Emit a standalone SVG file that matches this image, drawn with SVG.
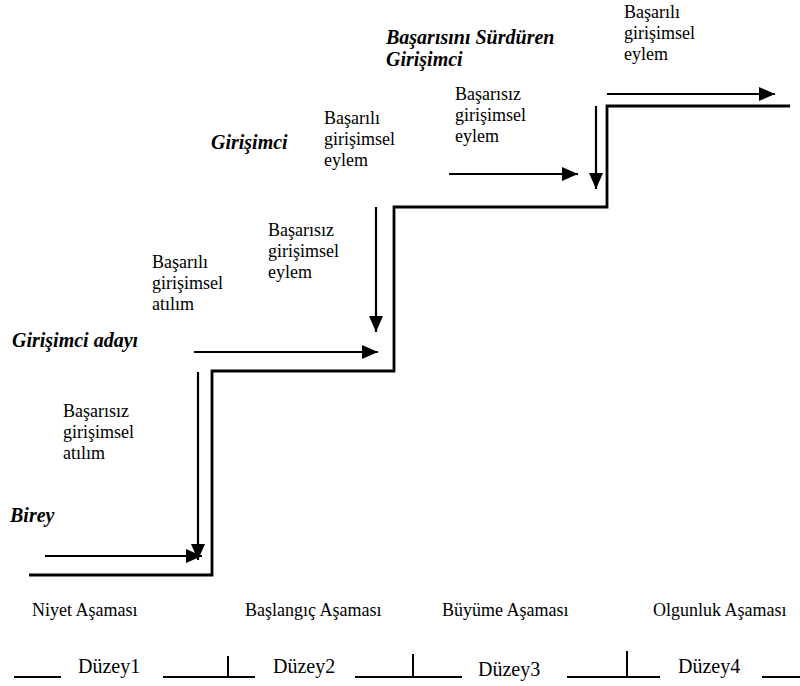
<svg xmlns="http://www.w3.org/2000/svg" width="800" height="686" viewBox="0 0 800 686">
<style>
  text { font-family: "Liberation Serif", "Times New Roman", serif; fill: #000; }
  .lbl { font-size: 18px; }
  .stage { font-size: 20px; font-weight: bold; font-style: italic; }
  .lvl { font-size: 20px; }
  .stair { fill: none; stroke: #000; stroke-width: 2.8; }
  .arr { fill: none; stroke: #000; stroke-width: 2.2; marker-end: url(#ah); }
  .tick { fill: none; stroke: #000; stroke-width: 2; }
</style>
<defs>
  <marker id="ah" markerUnits="userSpaceOnUse" markerWidth="16" markerHeight="14" refX="16" refY="7" orient="auto">
    <path d="M0,0 L16,7 L0,14 Z" fill="#000"/>
  </marker>
</defs>
<rect width="800" height="686" fill="#fff"/>

<g id="staircase">
  <path class="stair" d="M29,575 H212 V371 H394 V207 H607 V106 H790"/>
</g>

<g id="connectors">
  <path class="arr" d="M45,556 H202"/>
  <path class="arr" d="M198,372 V560"/>
  <path class="arr" d="M194,352 H378"/>
  <path class="arr" d="M376,207 V332"/>
  <path class="arr" d="M449,174 H578"/>
  <path class="arr" d="M596,106 V189"/>
  <path class="arr" d="M607,94 H775"/>
</g>

<g id="birey"><text class="stage" x="10" y="522">Birey</text></g>
<g id="girisimci-adayi"><text class="stage" x="12" y="347">Girişimci adayı</text></g>
<g id="girisimci"><text class="stage" x="211" y="149">Girişimci</text></g>
<g id="basarisini-surduren">
  <text class="stage" x="386" y="44">Başarısını Sürdüren</text>
  <text class="stage" x="386" y="66">Girişimci</text>
</g>

<g id="lbl-basarisiz-atilim">
  <text class="lbl" x="63" y="417">Başarısız</text>
  <text class="lbl" x="63" y="438">girişimsel</text>
  <text class="lbl" x="63" y="459">atılım</text>
</g>
<g id="lbl-basarili-atilim">
  <text class="lbl" x="152" y="268">Başarılı</text>
  <text class="lbl" x="152" y="289">girişimsel</text>
  <text class="lbl" x="152" y="310">atılım</text>
</g>
<g id="lbl-basarisiz-eylem-1">
  <text class="lbl" x="268" y="236">Başarısız</text>
  <text class="lbl" x="268" y="257">girişimsel</text>
  <text class="lbl" x="268" y="278">eylem</text>
</g>
<g id="lbl-basarili-eylem-1">
  <text class="lbl" x="324" y="124">Başarılı</text>
  <text class="lbl" x="324" y="145">girişimsel</text>
  <text class="lbl" x="324" y="166">eylem</text>
</g>
<g id="lbl-basarisiz-eylem-2">
  <text class="lbl" x="455" y="100">Başarısız</text>
  <text class="lbl" x="455" y="121">girişimsel</text>
  <text class="lbl" x="455" y="142">eylem</text>
</g>
<g id="lbl-basarili-eylem-2">
  <text class="lbl" x="624" y="18">Başarılı</text>
  <text class="lbl" x="624" y="39">girişimsel</text>
  <text class="lbl" x="624" y="60">eylem</text>
</g>

<g id="phases">
  <text class="lbl" x="32" y="616">Niyet Aşaması</text>
  <text class="lbl" x="245" y="616">Başlangıç Aşaması</text>
  <text class="lbl" x="442" y="616">Büyüme Aşaması</text>
  <text class="lbl" x="653" y="616">Olgunluk Aşaması</text>
</g>

<g id="levels">
  <path class="tick" d="M14,677 H61"/>
  <text class="lvl" x="78" y="673">Düzey1</text>
  <path class="tick" d="M163,677 H255 M228,677 V656"/>
  <text class="lvl" x="273" y="673">Düzey2</text>
  <path class="tick" d="M355,677 H462 M413,677 V654"/>
  <text class="lvl" x="478" y="676">Düzey3</text>
  <path class="tick" d="M567,677 H660 M627,677 V651"/>
  <text class="lvl" x="678" y="673">Düzey4</text>
  <path class="tick" d="M762,677 H800"/>
</g>
</svg>
